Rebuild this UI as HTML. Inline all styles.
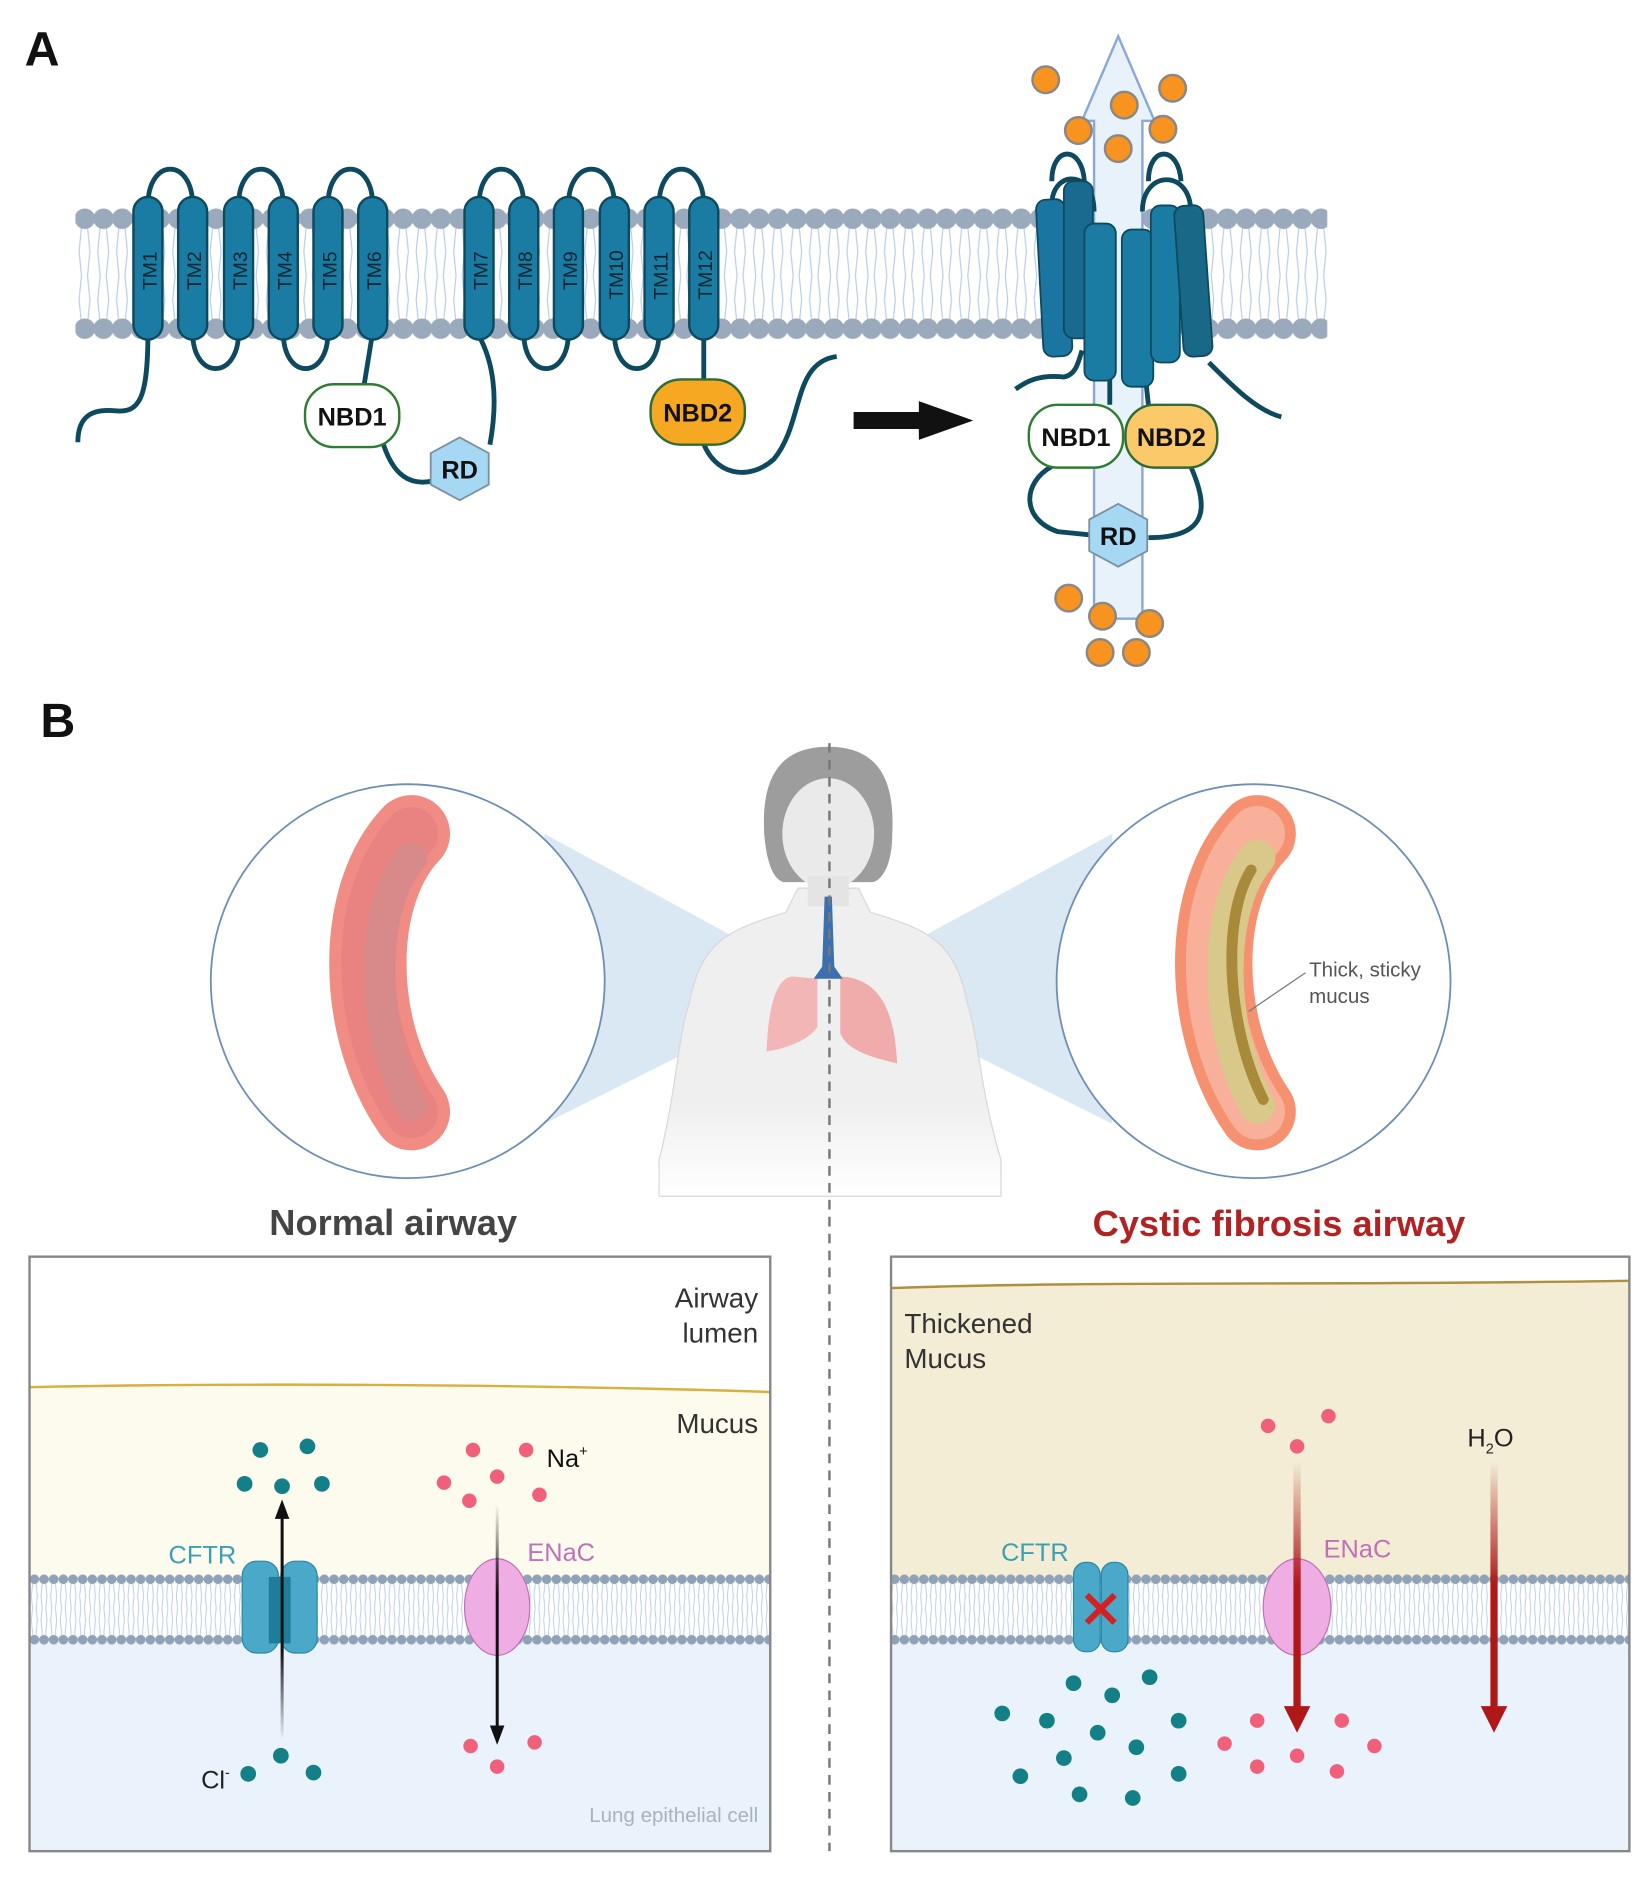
<!DOCTYPE html>
<html><head><meta charset="utf-8"><style>
html,body{margin:0;padding:0;background:#fff;}
svg{display:block;}
text{font-family:"Liberation Sans",sans-serif;}
</style></head><body>
<svg width="1648" height="1885" viewBox="0 0 1363 1560" xmlns="http://www.w3.org/2000/svg">
<defs>
<pattern id="headA" width="15.5" height="20" patternUnits="userSpaceOnUse" x="62" y="171">
<circle cx="7.75" cy="10" r="8.5" fill="#9aa9bb"/></pattern>
<pattern id="headA2" width="15.5" height="20" patternUnits="userSpaceOnUse" x="62" y="262">
<circle cx="7.75" cy="10" r="8.5" fill="#9aa9bb"/></pattern>
<pattern id="tailA" width="15.5" height="40" patternUnits="userSpaceOnUse" x="62" y="188">
<path d="M5,0 L3,20 L5,40 M10,0 L12,20 L10,40" stroke="#b9cde6" stroke-width="1" fill="none"/></pattern>
<pattern id="headB" width="8" height="10" patternUnits="userSpaceOnUse" x="0" y="1302">
<circle cx="4" cy="5" r="4" fill="#8fa2b8"/></pattern>
<pattern id="headB2" width="8" height="10" patternUnits="userSpaceOnUse" x="0" y="1352">
<circle cx="4" cy="5" r="4" fill="#8fa2b8"/></pattern>
<pattern id="tailB" width="8" height="20" patternUnits="userSpaceOnUse" x="0" y="1311">
<path d="M2.5,0 L1.5,10 L2.5,20 M5.5,0 L6.5,10 L5.5,20" stroke="#b9cde6" stroke-width="0.8" fill="none"/></pattern>
<linearGradient id="fadeR" x1="0" y1="0" x2="0" y2="1"><stop offset="0" stop-color="#b01818" stop-opacity="0"/><stop offset="0.5" stop-color="#b01818"/><stop offset="1" stop-color="#b01818"/></linearGradient>
<linearGradient id="fadeK" x1="0" y1="1" x2="0" y2="0"><stop offset="0" stop-color="#111" stop-opacity="0"/><stop offset="0.4" stop-color="#111"/><stop offset="1" stop-color="#111"/></linearGradient>
<linearGradient id="fadeK2" x1="0" y1="0" x2="0" y2="1"><stop offset="0" stop-color="#111" stop-opacity="0"/><stop offset="0.4" stop-color="#111"/><stop offset="1" stop-color="#111"/></linearGradient>
<linearGradient id="bodyFade" x1="0" y1="0" x2="0" y2="1"><stop offset="0.7" stop-color="#efefef"/><stop offset="1" stop-color="#fff"/></linearGradient>
<clipPath id="clipL"><rect x="24" y="1040" width="613" height="492"/></clipPath>
<clipPath id="clipR"><rect x="737" y="1040" width="611" height="492"/></clipPath>
</defs>

<!-- PANEL A -->
<text x="20" y="54" font-size="40" font-weight="bold" fill="#111">A</text>
<rect x="62" y="188" width="1036" height="78" fill="url(#tailA)"/>
<rect x="62" y="171" width="1036" height="20" fill="url(#headA)"/>
<rect x="62" y="262" width="1036" height="20" fill="url(#headA2)"/>

<g fill="none" stroke="#0d4a60" stroke-width="4">
<path d="M122,170 C122,130 159,130 159,170"/><path d="M197,170 C197,130 234,130 234,170"/><path d="M271,170 C271,130 308,130 308,170"/>
<path d="M396,170 C396,130 433,130 433,170"/><path d="M470,170 C470,130 508,130 508,170"/><path d="M545,170 C545,130 582,130 582,170"/>
<path d="M159,275 C159,315 197,315 197,275"/><path d="M234,275 C234,315 271,315 271,275"/>
<path d="M433,275 C433,315 470,315 470,275"/><path d="M508,275 C508,315 545,315 545,275"/>
<path d="M122,275 C122,330 115,342 95,340 C75,338 64,345 64,366"/>
<path d="M308,275 L301,318"/>
<path d="M316,365 C325,395 340,402 358,398"/>
<path d="M405,368 C412,330 408,300 396,278"/>
<path d="M582,275 L582,316"/>
<path d="M580,362 C590,395 620,398 640,380 C665,350 655,300 692,295"/>
</g>
<g fill="#1a7ba3" stroke="#0d4a60" stroke-width="2">
<rect x="110" y="163" width="24" height="118" rx="12"/><rect x="147" y="163" width="24" height="118" rx="12"/>
<rect x="185" y="163" width="24" height="118" rx="12"/><rect x="222" y="163" width="24" height="118" rx="12"/>
<rect x="259" y="163" width="24" height="118" rx="12"/><rect x="296" y="163" width="24" height="118" rx="12"/>
<rect x="384" y="163" width="24" height="118" rx="12"/><rect x="421" y="163" width="24" height="118" rx="12"/>
<rect x="458" y="163" width="24" height="118" rx="12"/><rect x="496" y="163" width="24" height="118" rx="12"/>
<rect x="533" y="163" width="24" height="118" rx="12"/><rect x="570" y="163" width="24" height="118" rx="12"/>
</g>
<g font-size="16" fill="#0a2530">
<text transform="translate(129,240) rotate(-90)">TM1</text><text transform="translate(166,240) rotate(-90)">TM2</text>
<text transform="translate(204,240) rotate(-90)">TM3</text><text transform="translate(241,240) rotate(-90)">TM4</text>
<text transform="translate(278,240) rotate(-90)">TM5</text><text transform="translate(315,240) rotate(-90)">TM6</text>
<text transform="translate(403,240) rotate(-90)">TM7</text><text transform="translate(440,240) rotate(-90)">TM8</text>
<text transform="translate(477,240) rotate(-90)">TM9</text><text transform="translate(515,248) rotate(-90)">TM10</text>
<text transform="translate(552,248) rotate(-90)">TM11</text><text transform="translate(589,248) rotate(-90)">TM12</text>
</g>
<rect x="252" y="318" width="78" height="52" rx="24" fill="#fff" stroke="#2e7d32" stroke-width="2"/>
<text x="291" y="352" font-size="21" font-weight="bold" text-anchor="middle" fill="#111">NBD1</text>
<polygon points="380,362 404,375 404,401 380,414 356,401 356,375" fill="#a6d8f4" stroke="#7a8fa0" stroke-width="1.5"/>
<text x="380" y="396" font-size="21" font-weight="bold" text-anchor="middle" fill="#111">RD</text>
<rect x="538" y="314" width="78" height="54" rx="25" fill="#f7a823" stroke="#2e6d32" stroke-width="2"/>
<text x="577" y="349" font-size="21" font-weight="bold" text-anchor="middle" fill="#111">NBD2</text>
<polygon points="706,341 760,341 760,332 805,348 760,364 760,355 706,355" fill="#111"/>

<path d="M925,30 L955,100 L945,100 L945,512 L905,512 L905,100 L895,100 Z" fill="#e8f2fb" stroke="#8aa8d8" stroke-width="2"/>
<g fill="#f7931e" stroke="#888" stroke-width="2">
<circle cx="865" cy="66" r="11"/><circle cx="970" cy="73" r="11"/><circle cx="930" cy="87" r="11"/>
<circle cx="892" cy="108" r="11"/><circle cx="962" cy="107" r="11"/><circle cx="925" cy="123" r="11"/>
<circle cx="884" cy="495" r="11"/><circle cx="912" cy="510" r="11"/><circle cx="951" cy="516" r="11"/>
<circle cx="910" cy="540" r="11"/><circle cx="940" cy="540" r="11"/>
</g>
<g fill="none" stroke="#0d4a60" stroke-width="4">
<path d="M870,150 C870,120 895,120 897,150"/><path d="M870,170 C870,140 905,140 905,175"/>
<path d="M950,150 C950,120 975,120 977,150"/><path d="M945,175 C945,140 985,140 985,175"/>
<path d="M840,322 C850,315 860,310 880,312 C890,310 892,300 895,290"/>
<path d="M1060,345 C1040,340 1020,320 1000,300"/>
<path d="M918,290 L918,335"/><path d="M945,290 L950,335"/>
<path d="M870,386 C845,400 845,430 875,440 L905,443"/>
<path d="M985,386 C1000,420 1000,445 950,445"/>
</g>
<g stroke="#0d4a60" stroke-width="1.5">
<rect x="860" y="165" width="24" height="130" rx="8" fill="#1a76a0" transform="rotate(-3 872 230)"/>
<rect x="880" y="150" width="24" height="130" rx="8" fill="#1a6a90"/>
<rect x="897" y="185" width="26" height="130" rx="8" fill="#1a7ba3"/>
<rect x="928" y="190" width="26" height="130" rx="8" fill="#1a7ba3"/>
<rect x="952" y="170" width="24" height="130" rx="8" fill="#1a7ba3"/>
<rect x="975" y="170" width="24" height="125" rx="8" fill="#1a6888" transform="rotate(-4 987 230)"/>
</g>
<rect x="851" y="335" width="78" height="52" rx="24" fill="#fff" stroke="#2e7d32" stroke-width="2"/>
<text x="890" y="369" font-size="21" font-weight="bold" text-anchor="middle" fill="#111">NBD1</text>
<rect x="931" y="335" width="76" height="52" rx="24" fill="#fcc96a" stroke="#2e6d32" stroke-width="2"/>
<text x="969" y="369" font-size="21" font-weight="bold" text-anchor="middle" fill="#111">NBD2</text>
<polygon points="925,417 949,430 949,456 925,469 901,456 901,430" fill="#a6d8f4" stroke="#7a8fa0" stroke-width="1.5"/>
<text x="925" y="451" font-size="21" font-weight="bold" text-anchor="middle" fill="#111">RD</text>

<!-- PANEL B -->
<text x="33" y="610" font-size="40" font-weight="bold" fill="#111">B</text>
<polygon points="450,690 680,815 450,930" fill="#cfe2ef" opacity="0.8"/>
<polygon points="920,690 690,815 920,930" fill="#cfe2ef" opacity="0.8"/>
<path d="M545,960 C560,900 560,860 570,830 C580,780 600,770 650,755 L660,735 L710,735 L720,755 C770,770 790,780 800,830 C810,860 810,900 828,960 L828,990 L545,990 Z" fill="url(#bodyFade)" stroke="#d8d8d8" stroke-width="1"/>
<path d="M685,618 C640,618 630,650 632,690 C634,715 640,728 648,730 L722,730 C730,728 738,715 738,690 C740,650 730,618 685,618 Z" fill="#9d9d9d"/>
<ellipse cx="685" cy="690" rx="38" ry="46" fill="#eaeaea"/>
<rect x="668" y="725" width="34" height="25" fill="#e4e4e4"/>
<path d="M655,808 C640,810 635,840 634,870 C650,868 670,860 676,850 L676,810 Z" fill="#f4a8a8" opacity="0.8"/>
<path d="M695,808 C730,810 740,840 742,880 C725,876 700,870 695,855 Z" fill="#f09a9a" opacity="0.8"/>
<path d="M682,742 L688,742 L690,800 L697,810 L673,810 L680,800 Z" fill="#3a6fb0"/>
<circle cx="337" cy="812" r="163" fill="#fff" stroke="#6e8fb5" stroke-width="1.5"/>
<circle cx="1037" cy="812" r="163" fill="#fff" stroke="#6e8fb5" stroke-width="1.5"/>
<g fill="none" stroke-linecap="round">
<path d="M340,690 C292,740 292,850 340,920" stroke="#f08c84" stroke-width="64"/>
<path d="M340,690 C292,740 292,850 340,920" stroke="#e88382" stroke-width="44"/>
<path d="M340,710 C305,750 305,850 340,915" stroke="#d88a8a" stroke-width="26"/>
<path d="M1040,690 C992,740 992,850 1040,920" stroke="#f59070" stroke-width="64"/>
<path d="M1040,690 C992,740 992,850 1040,920" stroke="#f8b09a" stroke-width="46"/>
<path d="M1040,710 C1005,750 1005,850 1040,915" stroke="#d8c88a" stroke-width="30"/>
<path d="M1035,720 C1010,760 1015,850 1045,910" stroke="#a88a3a" stroke-width="9"/>
</g>
<line x1="1033" y1="837" x2="1080" y2="805" stroke="#777" stroke-width="1"/>
<text x="1083" y="808" font-size="17" fill="#555">Thick, sticky</text>
<text x="1083" y="830" font-size="17" fill="#555">mucus</text>
<line x1="686" y1="615" x2="686" y2="1532" stroke="#777" stroke-width="2" stroke-dasharray="8,6"/>

<text x="325" y="1022" font-size="30" font-weight="bold" fill="#444" text-anchor="middle">Normal airway</text>
<text x="1058" y="1023" font-size="30" font-weight="bold" fill="#b22222" text-anchor="middle">Cystic fibrosis airway</text>

<g clip-path="url(#clipL)">
<rect x="24" y="1040" width="613" height="492" fill="#fff"/>
<path d="M24,1148 C200,1144 450,1146 637,1152 L637,1310 L24,1310 Z" fill="#fdfaee"/>
<path d="M24,1148 C200,1144 450,1146 637,1152" stroke="#d8b040" stroke-width="2" fill="none"/>
<rect x="24" y="1355" width="613" height="180" fill="#eaf3fb"/>
<rect x="24" y="1311" width="613" height="42" fill="url(#tailB)"/>
<rect x="24" y="1302" width="613" height="10" fill="url(#headB)"/>
<rect x="24" y="1352" width="613" height="10" fill="url(#headB2)"/>
</g>
<rect x="24" y="1040" width="613" height="492" fill="none" stroke="#888" stroke-width="2"/>
<text x="627" y="1082" font-size="23" fill="#333" text-anchor="end">Airway</text>
<text x="627" y="1111" font-size="23" fill="#333" text-anchor="end">lumen</text>
<text x="627" y="1186" font-size="23" fill="#333" text-anchor="end">Mucus</text>
<text x="627" y="1508" font-size="17" fill="#a9b2bd" text-anchor="end">Lung epithelial cell</text>
<text x="195" y="1294" font-size="21" fill="#3aa0b8" text-anchor="end">CFTR</text>
<text x="436" y="1292" font-size="21" fill="#c070b8">ENaC</text>
<text x="452" y="1214" font-size="21" fill="#111">Na<tspan font-size="12" dy="-9">+</tspan></text>
<text x="166" y="1480" font-size="21" fill="#222">Cl<tspan font-size="12" dy="-9">-</tspan></text>
<rect x="200" y="1292" width="30" height="76" rx="12" fill="#4aa8c8" stroke="#2a88a8"/>
<rect x="232" y="1292" width="30" height="76" rx="12" fill="#4aa8c8" stroke="#2a88a8"/>
<rect x="222" y="1305" width="18" height="55" fill="#1e7d98"/>
<ellipse cx="411" cy="1330" rx="27" ry="40" fill="#eeaee4" stroke="#c070b8"/>
<line x1="411" y1="1292" x2="411" y2="1368" stroke="#c070b8"/>
<rect x="231.8" y="1255" width="2.5" height="185" fill="url(#fadeK)"/>
<polygon points="233,1241 227,1257 239,1257" fill="#111"/>
<rect x="409.8" y="1245" width="2.5" height="185" fill="url(#fadeK2)"/>
<polygon points="411,1444 405,1428 417,1428" fill="#111"/>
<g fill="#137f86">
<circle cx="215" cy="1200" r="6.5"/><circle cx="254" cy="1197" r="6.5"/><circle cx="202" cy="1228" r="6.5"/><circle cx="233" cy="1230" r="6.5"/><circle cx="266" cy="1228" r="6.5"/>
<circle cx="232" cy="1453" r="6.5"/><circle cx="205" cy="1468" r="6.5"/><circle cx="259" cy="1467" r="6.5"/>
</g>
<g fill="#f0607a">
<circle cx="391" cy="1200" r="6"/><circle cx="435" cy="1200" r="6"/><circle cx="367" cy="1227" r="6"/><circle cx="411" cy="1222" r="6"/><circle cx="446" cy="1237" r="6"/><circle cx="388" cy="1242" r="6"/>
<circle cx="389" cy="1445" r="6"/><circle cx="442" cy="1442" r="6"/><circle cx="411" cy="1462" r="6"/>
</g>

<g clip-path="url(#clipR)">
<rect x="737" y="1040" width="611" height="492" fill="#fff"/>
<path d="M737,1066 C900,1060 1100,1064 1348,1060 L1348,1310 L737,1310 Z" fill="#f2edd4"/>
<path d="M737,1066 C900,1060 1100,1064 1348,1060" stroke="#b09040" stroke-width="2" fill="none"/>
<rect x="737" y="1355" width="611" height="180" fill="#eaf3fb"/>
<rect x="737" y="1311" width="611" height="42" fill="url(#tailB)"/>
<rect x="737" y="1302" width="611" height="10" fill="url(#headB)"/>
<rect x="737" y="1352" width="611" height="10" fill="url(#headB2)"/>
</g>
<rect x="737" y="1040" width="611" height="492" fill="none" stroke="#888" stroke-width="2"/>
<text x="748" y="1103" font-size="23" fill="#333">Thickened</text>
<text x="748" y="1132" font-size="23" fill="#333">Mucus</text>
<text x="884" y="1292" font-size="21" fill="#3aa0b8" text-anchor="end">CFTR</text>
<text x="1095" y="1289" font-size="21" fill="#c070b8">ENaC</text>
<text x="1214" y="1197" font-size="21" fill="#222">H<tspan font-size="12" dy="6">2</tspan><tspan dy="-6">O</tspan></text>
<rect x="888" y="1293" width="22" height="74" rx="10" fill="#4aa8c8" stroke="#2a88a8"/>
<rect x="911" y="1293" width="22" height="74" rx="10" fill="#4aa8c8" stroke="#2a88a8"/>
<path d="M899,1320 L922,1343 M922,1320 L899,1343" stroke="#d42020" stroke-width="5"/>
<ellipse cx="1073" cy="1330" rx="28" ry="40" fill="#eeaee4" stroke="#c070b8"/>
<rect x="1070" y="1210" width="6" height="205" fill="url(#fadeR)"/>
<polygon points="1062,1412 1084,1412 1073,1434" fill="#b01818"/>
<rect x="1233" y="1210" width="6" height="205" fill="url(#fadeR)"/>
<polygon points="1225,1412 1247,1412 1236,1434" fill="#b01818"/>
<g fill="#f0607a">
<circle cx="1049" cy="1180" r="6"/><circle cx="1099" cy="1172" r="6"/><circle cx="1073" cy="1197" r="6"/>
<circle cx="1040" cy="1424" r="6"/><circle cx="1110" cy="1424" r="6"/><circle cx="1013" cy="1443" r="6"/><circle cx="1073" cy="1453" r="6"/><circle cx="1137" cy="1445" r="6"/><circle cx="1040" cy="1462" r="6"/><circle cx="1106" cy="1466" r="6"/>
</g>
<g fill="#137f86">
<circle cx="888" cy="1393" r="6.5"/><circle cx="951" cy="1388" r="6.5"/><circle cx="920" cy="1403" r="6.5"/>
<circle cx="829" cy="1418" r="6.5"/><circle cx="866" cy="1424" r="6.5"/><circle cx="908" cy="1434" r="6.5"/><circle cx="975" cy="1424" r="6.5"/>
<circle cx="940" cy="1446" r="6.5"/><circle cx="880" cy="1455" r="6.5"/><circle cx="844" cy="1470" r="6.5"/><circle cx="975" cy="1468" r="6.5"/>
<circle cx="893" cy="1485" r="6.5"/><circle cx="937" cy="1488" r="6.5"/>
</g>
</svg>
</body></html>
